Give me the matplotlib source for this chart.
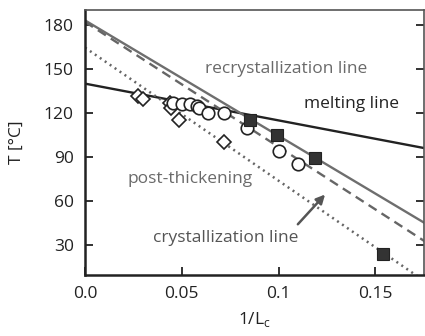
import matplotlib
matplotlib.use("Agg")
import matplotlib.pyplot as plt
import numpy as np

plt.rcParams["font.family"] = ["Open Sans", "DejaVu Sans"]

# Lines: (intercept at 1/Lc = 0, slope)
melting_line = (140.0, -250.0)
recryst_line = (183.0, -785.0)
dashed_line = (182.0, -850.0)
cryst_line = (164.5, -905.0)

# Open diamonds
diamond_x = [0.0273, 0.030, 0.0438, 0.0443, 0.0485, 0.0716]
diamond_y = [131.8, 129.8, 127.0, 123.6, 115.5, 100.0]

# Open circles
circle_x = [0.0454, 0.050, 0.054, 0.0577, 0.059, 0.0634, 0.0716, 0.0835, 0.100, 0.110]
circle_y = [127.0, 126.3, 126.0, 125.0, 123.6, 120.0, 120.0, 110.0, 94.5, 85.6]

# Filled squares
square_x = [0.085, 0.099, 0.1186, 0.154]
square_y = [115.0, 105.0, 89.7, 24.5]

x_ticks = [0.0, 0.05, 0.1, 0.15]
x_tick_labels = ["0.0", "0.05", "0.1", "0.15"]
y_ticks = [30, 60, 90, 120, 150, 180]

fs = 12.5

fig = plt.figure(figsize=(4.25, 3.36), dpi=100)
ax = fig.add_axes([0.2, 0.182, 0.797, 0.788])

xx = np.linspace(0, 0.18, 200)
ax.plot(xx, melting_line[0] + melting_line[1] * xx, color="#222222", lw=1.7, zorder=2)
ax.plot(xx, recryst_line[0] + recryst_line[1] * xx, color="#6e6e6e", lw=1.7, zorder=2)
ax.plot(xx, dashed_line[0] + dashed_line[1] * xx, color="#666666", lw=1.7,
        ls=(0, (4, 2.5)), zorder=2)
ax.plot(xx, cryst_line[0] + cryst_line[1] * xx, color="#666666", lw=1.8,
        ls=(0, (0.8, 1.6)), zorder=2)

ax.plot(diamond_x, diamond_y, ls="none", marker="D", ms=7.5, mfc="white",
        mec="#222222", mew=1.2, zorder=3)
ax.plot(circle_x, circle_y, ls="none", marker="o", ms=9, mfc="white",
        mec="#222222", mew=1.2, zorder=3)
ax.plot(square_x, square_y, ls="none", marker="s", ms=8, mfc="#333333",
        mec="#222222", mew=0.8, zorder=4)

# Labels on the chart
ax.text(0.062, 150, "recrystallization line", color="#6a6a6a", fontsize=fs,
        va="center", ha="left")
ax.text(0.113, 126, "melting line", color="#222222", fontsize=fs,
        va="center", ha="left")
ax.text(0.022, 75, "post-thickening", color="#6a6a6a", fontsize=fs,
        va="center", ha="left")
ax.text(0.035, 35, "crystallization line", color="#555555", fontsize=fs,
        va="center", ha="left")
ax.annotate("", xy=(0.125, 66), xytext=(0.109, 43),
            arrowprops=dict(arrowstyle="-|>", color="#555555", lw=1.8,
                            mutation_scale=13))

ax.set_xlim(0, 0.175)
ax.set_ylim(10, 190)
ax.set_xticks(x_ticks)
ax.set_xticklabels(x_tick_labels)
ax.set_yticks(y_ticks)
ax.tick_params(axis="both", direction="in", length=6, width=1.3,
               labelsize=fs, pad=8, colors="#222222")
ax.tick_params(axis="y", right=True)
ax.set_xlabel("1/L$_\\mathregular{c}$", fontsize=fs, color="#222222", labelpad=6)
ax.set_ylabel("T [°C]", fontsize=fs, color="#222222", labelpad=14)

for side in ["left", "bottom"]:
    ax.spines[side].set_linewidth(1.8)
    ax.spines[side].set_color("#222222")
for side in ["top", "right"]:
    ax.spines[side].set_linewidth(1.2)
    ax.spines[side].set_color("#555555")

fig.savefig("out.png", dpi=100)
